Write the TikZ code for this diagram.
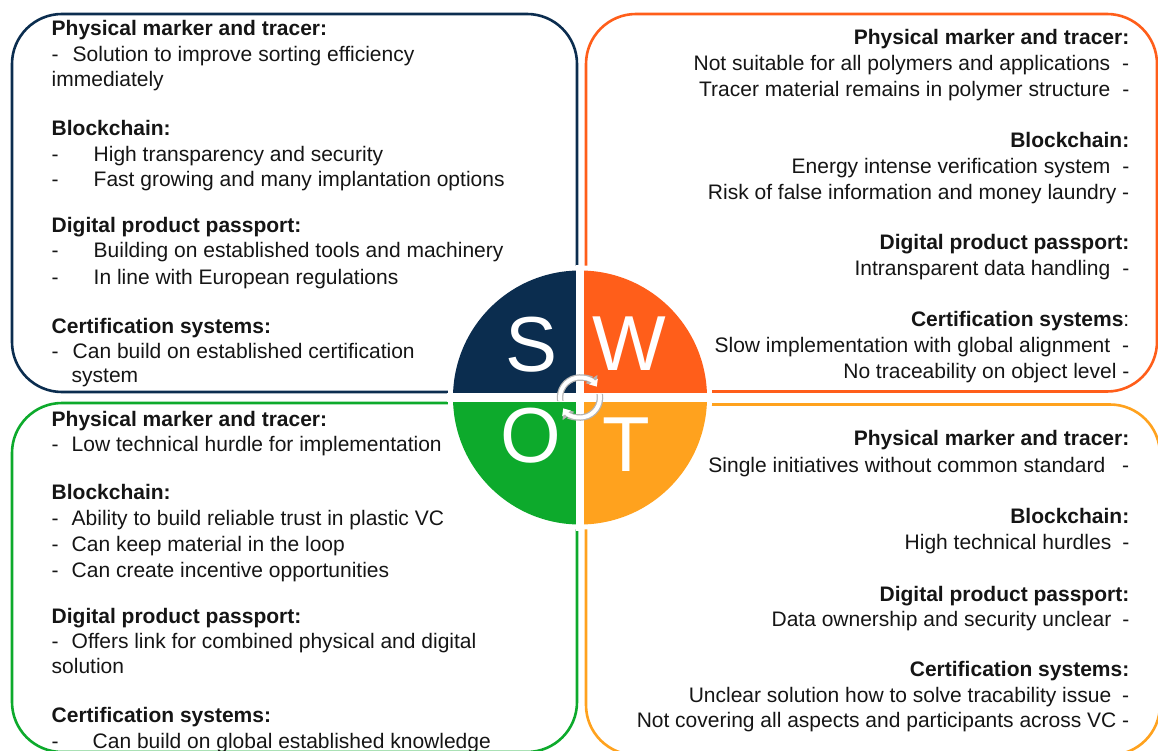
\documentclass[tikz,border=0pt]{standalone}
\usepackage{fontspec}
\setmainfont{Liberation Sans}
\usetikzlibrary{arrows.meta}
\definecolor{swotS}{HTML}{0B2D4F}
\definecolor{swotW}{HTML}{FF5E1A}
\definecolor{swotO}{HTML}{0DAA2C}
\definecolor{swotT}{HTML}{FFA21E}
\definecolor{ink}{HTML}{151515}
\definecolor{ringgray}{HTML}{B4B4B4}

\begin{document}
\begin{tikzpicture}[x=1pt,y=-1pt,
  panel/.style={line width=2.6pt, rounded corners=50pt},
  txt/.style={inner sep=0pt, text=ink, font=\fontsize{21}{25}\selectfont},
  lft/.style={txt, anchor=base west},
  rgt/.style={txt, anchor=base east},
  letter/.style={inner sep=0pt, anchor=base, text=white, font=\fontsize{78}{78}\selectfont},
  ringout/.style={ringgray, line width=6.5pt, -{Triangle[length=8.5pt,width=14pt]}},
  ringin/.style={white, line width=4pt, -{Triangle[length=6pt,width=10pt]}},
]
\useasboundingbox (0,0) rectangle (1158,751);
\clip (0,0) rectangle (1158,751);

% four framed panels
\draw[panel, draw=swotS] (12,14) rectangle (577,392);
\draw[panel, draw=swotW] (586,14) rectangle (1157,391.5);
\draw[panel, draw=swotO] (12,403) rectangle (577,752);
\draw[panel, draw=swotT] (586,404.5) rectangle (1160,755);

% central SWOT disc
\coordinate (c) at (580,397.5);
\fill[white] (c) circle[radius=132];
\fill[swotS] (c) -- ++(180:127) arc[start angle=180,end angle=270,radius=127] -- cycle;
\fill[swotW] (c) -- ++(270:127) arc[start angle=270,end angle=360,radius=127] -- cycle;
\fill[swotT] (c) -- ++(0:127) arc[start angle=0,end angle=90,radius=127] -- cycle;
\fill[swotO] (c) -- ++(90:127) arc[start angle=90,end angle=180,radius=127] -- cycle;
\draw[white, line width=8pt] (c) ++(0,-133) -- ++(0,266);
\draw[white, line width=9pt] (c) ++(-133,0) -- ++(266,0);

% cycle symbol in the middle
\draw[ringout] (c) ++(170:20) arc[start angle=170,end angle=325,radius=20];
\draw[ringout] (c) ++(350:20) arc[start angle=350,end angle=505,radius=20];
\draw[ringin] (c) ++(170:20) arc[start angle=170,end angle=327,radius=20];
\draw[ringin] (c) ++(350:20) arc[start angle=350,end angle=507,radius=20];

\node[letter] (S) at (531.5,371) {S};
\node[letter] (W) at (629,370) {W};
\node[letter] (O) at (530.5,462) {O};
\node[letter] (T) at (626.5,471) {T};

% Strengths
\node[lft] (s1) at (51.5,36) {\textbf{Physical marker and tracer:}};
\node[lft] (s2) at (51.5,62) {\makebox[21pt][l]{-}Solution to improve sorting efficiency};
\node[lft] (s3) at (51.5,87) {immediately};
\node[lft] (s4) at (51.5,136) {\textbf{Blockchain:}};
\node[lft] (s5) at (51.5,162) {\makebox[42pt][l]{-}High transparency and security};
\node[lft] (s6) at (51.5,187) {\makebox[42pt][l]{-}Fast growing and many implantation options};
\node[lft] (s7) at (51.5,233) {\textbf{Digital product passport:}};
\node[lft] (s8) at (51.5,258) {\makebox[42pt][l]{-}Building on established tools and machinery};
\node[lft] (s9) at (51.5,284) {\makebox[42pt][l]{-}In line with European regulations};
\node[lft] (s10) at (51.5,333) {\textbf{Certification systems:}};
\node[lft] (s11) at (51.5,358) {\makebox[21pt][l]{-}Can build on established certification};
\node[lft] (s12) at (51.5,382) {\hspace*{20pt}system};

% Weaknesses
\node[rgt] (w1) at (1129.5,45) {\textbf{Physical marker and tracer:}};
\node[rgt] (w2) at (1129.5,71) {Not suitable for all polymers and applications\hspace{12pt}-};
\node[rgt] (w3) at (1129.5,97) {Tracer material remains in polymer structure\hspace{12pt}-};
\node[rgt] (w4) at (1129.5,148) {\textbf{Blockchain:}};
\node[rgt] (w5) at (1129.5,174) {Energy intense verification system\hspace{12pt}-};
\node[rgt] (w6) at (1129.5,200) {Risk of false information and money laundry -};
\node[rgt] (w7) at (1129.5,250) {\textbf{Digital product passport:}};
\node[rgt] (w8) at (1129.5,275) {Intransparent data handling\hspace{12pt}-};
\node[rgt] (w9) at (1129.5,326) {\textbf{Certification systems}:};
\node[rgt] (w10) at (1129.5,352) {Slow implementation with global alignment\hspace{12pt}-};
\node[rgt] (w11) at (1129.5,378) {No traceability on object level -};

% Opportunities
\node[lft] (o1) at (51.5,426) {\textbf{Physical marker and tracer:}};
\node[lft] (o2) at (51.5,451) {\makebox[20pt][l]{-}Low technical hurdle for implementation};
\node[lft] (o3) at (51.5,499) {\textbf{Blockchain:}};
\node[lft] (o4) at (51.5,525) {\makebox[20pt][l]{-}Ability to build reliable trust in plastic VC};
\node[lft] (o5) at (51.5,551) {\makebox[20pt][l]{-}Can keep material in the loop};
\node[lft] (o6) at (51.5,577) {\makebox[20pt][l]{-}Can create incentive opportunities};
\node[lft] (o7) at (51.5,623) {\textbf{Digital product passport:}};
\node[lft] (o8) at (51.5,648) {\makebox[20pt][l]{-}Offers link for combined physical and digital};
\node[lft] (o9) at (51.5,673) {solution};
\node[lft] (o10) at (51.5,722) {\textbf{Certification systems:}};
\node[lft] (o11) at (51.5,748) {\makebox[41pt][l]{-}Can build on global established knowledge};

% Threats
\node[rgt] (t1) at (1129.5,445) {\textbf{Physical marker and tracer:}};
\node[rgt] (t2) at (1129.5,472) {Single initiatives without common standard\hspace{17pt}-};
\node[rgt] (t3) at (1129.5,523) {\textbf{Blockchain:}};
\node[rgt] (t4) at (1129.5,549) {High technical hurdles\hspace{11pt}-};
\node[rgt] (t5) at (1129.5,601) {\textbf{Digital product passport:}};
\node[rgt] (t6) at (1129.5,626) {Data ownership and security unclear\hspace{11pt}-};
\node[rgt] (t7) at (1129.5,676) {\textbf{Certification systems:}};
\node[rgt] (t8) at (1129.5,702) {Unclear solution how to solve tracability issue\hspace{11pt}-};
\node[rgt] (t9) at (1129.5,727) {Not covering all aspects and participants across VC -};
\end{tikzpicture}
\end{document}
